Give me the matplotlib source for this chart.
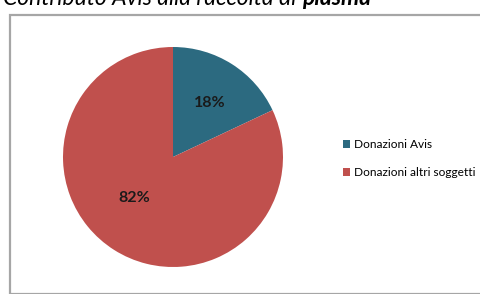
import matplotlib
matplotlib.use("Agg")
import matplotlib.pyplot as plt
from matplotlib.patches import Rectangle

plt.rcParams['font.family'] = ['Lato', 'DejaVu Sans']

labels = ["Donazioni Avis", "Donazioni altri soggetti"]
shares = [18, 82]
colours = ["#2C6A80", "#C0504D"]

W, H = 481, 294
fig = plt.figure(figsize=(W / 100, H / 100), dpi=100)

# grey chart frame, clipped by the picture on the right and bottom
fig.patches.append(Rectangle((9.5 / W, 0), 1.2, (H - 14.5) / H, transform=fig.transFigure,
                             fill=False, edgecolor="#A6A6A6", lw=1.6))

# title, mostly cut off at the top as in the source
tsize = 16.5
tt = fig.text(3 / W, 1 - 5 / H, "Contributo Avis alla raccolta di ", style="italic",
              fontsize=tsize, va="baseline", ha="left")
fig.canvas.draw()
bb = tt.get_window_extent()
fig.text(bb.x1 / W, 1 - 5 / H, "plasma", style="italic", weight="bold",
         fontsize=tsize, va="baseline", ha="left")

cx, cy, r = 173, 157, 110
ax = fig.add_axes([(cx - r) / W, (H - cy - r) / H, 2 * r / W, 2 * r / H])
wedges, texts, autotexts = ax.pie(shares, colors=colours, startangle=90, counterclock=False,
                                  radius=1, autopct="%d%%", pctdistance=0.6,
                                  wedgeprops=dict(linewidth=0),
                                  textprops=dict(fontsize=11.5, weight="bold", color="#1a1a1a"))
autotexts[0].set_position((0.33, 0.49))
autotexts[1].set_position((-0.35, -0.37))
ax.set_xlim(-1, 1)
ax.set_ylim(-1, 1)
ax.set_aspect("auto")
ax.axis("off")

fig.legend(wedges, labels, loc="upper left", bbox_to_anchor=(343 / W, 1 - 139 / H),
           frameon=False, fontsize=8.6, handlelength=0.6, handleheight=0.6,
           handletextpad=0.3, labelspacing=1.45, borderpad=0, borderaxespad=0)

fig.savefig("out.png", dpi=100)
